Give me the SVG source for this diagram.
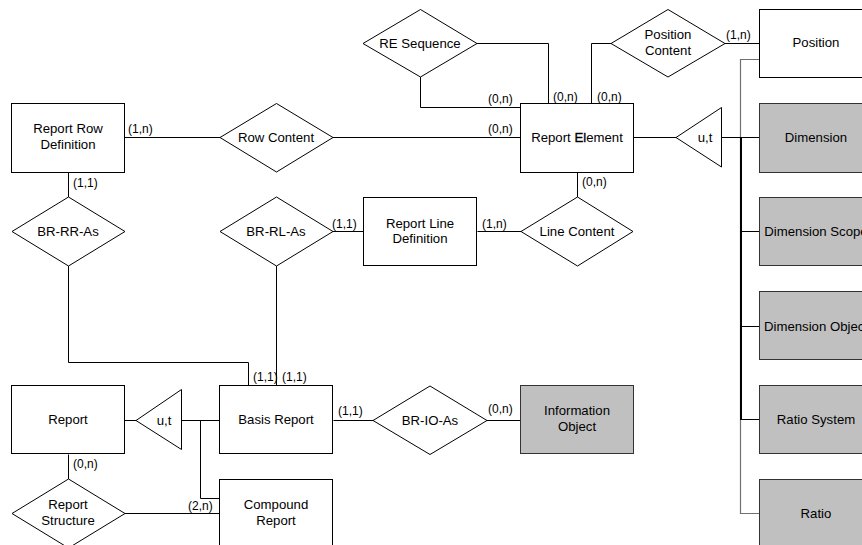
<svg xmlns="http://www.w3.org/2000/svg" width="862" height="545" viewBox="0 0 862 545">
  <style>
    .ent { fill: #ffffff; stroke: #000000; stroke-width: 1; }
    .ent-ext { fill: #c0c0c0; stroke: #333333; stroke-width: 1; }
    .rel { fill: #ffffff; stroke: #000000; stroke-width: 1; }
    .gen { fill: #ffffff; stroke: #000000; stroke-width: 1; }
    .t { font-family: "Liberation Sans", Arial, sans-serif; font-size: 13.2px; fill: #000000; text-anchor: middle; }
    .card { font-family: "Liberation Sans", Arial, sans-serif; font-size: 12px; fill: #000000; }
    .ln { fill: none; stroke: #000000; stroke-width: 1; }
    .ln-grey { fill: none; stroke: #707070; stroke-width: 1.2; }
    .ln-bold { fill: none; stroke: #000000; stroke-width: 2; }
  </style>
  <rect width="862" height="545" fill="#ffffff"/>

  <!-- connectors -->
  <g id="connectors">
    <!-- Report Row Definition - Row Content - Report Element -->
    <path class="ln" d="M124.5,137.5 H220"/>
    <path class="ln" d="M333,137.5 H520.5"/>
    <!-- RE Sequence loop -->
    <path class="ln" d="M477,43.5 H548.5 V103.5"/>
    <path class="ln" d="M420.5,77 V107.5 H520.5"/>
    <!-- Position Content -->
    <path class="ln" d="M611,43.5 H591.5 V103.5"/>
    <path class="ln" d="M725,43.5 H759.5"/>
    <!-- Report Element generalisation -->
    <path class="ln" d="M633.5,137.5 H676"/>
    <path class="ln-grey" d="M759.5,59.5 H740.5 V513.5 H759.5"/>
    <path class="ln" d="M721,137.5 H759.5"/>
    <path class="ln-bold" d="M741,137 V420"/>
    <path class="ln" d="M740.5,231.5 H759.5"/>
    <path class="ln" d="M740.5,326.5 H759.5"/>
    <path class="ln" d="M740.5,419.5 H759.5"/>
    <!-- Line Content -->
    <path class="ln" d="M577.5,172.5 V197"/>
    <path class="ln" d="M477.5,231.5 H521"/>
    <path class="ln" d="M333,231.5 H363.5"/>
    <!-- BR-RR-As -->
    <path class="ln" d="M68.5,172.5 V197"/>
    <path class="ln" d="M68.5,266 V362.5 H248.5 V386.5"/>
    <!-- BR-RL-As -->
    <path class="ln" d="M276.5,266 V386.5"/>
    <!-- Report / Basis Report / Compound Report -->
    <path class="ln" d="M219.5,420.5 H181"/>
    <path class="ln" d="M136,420.5 H124.5"/>
    <path class="ln" d="M200.5,420.5 V498.5 H219.5"/>
    <path class="ln" d="M68.5,454.5 V479"/>
    <path class="ln" d="M125,513.5 H219.5"/>
    <!-- BR-IO-As -->
    <path class="ln" d="M333.5,420.5 H373"/>
    <path class="ln" d="M487,420.5 H520.5"/>
  </g>

  <!-- cardinalities -->
  <g id="cardinalities">
    <text class="card" x="128" y="133">(1,n)</text>
    <text class="card" x="488" y="133">(0,n)</text>
    <text class="card" x="488" y="103">(0,n)</text>
    <text class="card" x="553" y="101">(0,n)</text>
    <text class="card" x="597" y="101">(0,n)</text>
    <text class="card" x="726" y="39">(1,n)</text>
    <text class="card" x="582" y="186">(0,n)</text>
    <text class="card" x="482" y="228">(1,n)</text>
    <text class="card" x="332" y="228">(1,1)</text>
    <text class="card" x="73" y="187">(1,1)</text>
    <text class="card" x="253" y="381">(1,1)</text>
    <text class="card" x="282" y="381">(1,1)</text>
    <text class="card" x="73" y="468">(0,n)</text>
    <text class="card" x="188" y="510">(2,n)</text>
    <text class="card" x="338" y="415">(1,1)</text>
    <text class="card" x="488" y="413">(0,n)</text>
  </g>

  <!-- entities -->
  <g id="report-row-definition">
    <rect class="ent" x="11.5" y="103.5" width="113" height="69"/>
    <text class="t" x="68" y="133">Report Row</text>
    <text class="t" x="68" y="149">Definition</text>
  </g>
  <g id="report-element">
    <rect class="ent" x="520.5" y="103.5" width="113" height="69"/>
    <text class="t" x="577" y="142">Report <tspan stroke="#000000" stroke-width="0.3">El</tspan>ement</text>
  </g>
  <g id="position">
    <rect class="ent" x="759.5" y="9.5" width="113" height="68"/>
    <text class="t" x="816" y="47">Position</text>
  </g>
  <g id="dimension">
    <rect class="ent-ext" x="759.5" y="103.5" width="113" height="69"/>
    <text class="t" x="816" y="142">Dimension</text>
  </g>
  <g id="dimension-scope">
    <rect class="ent-ext" x="759.5" y="197.5" width="113" height="68"/>
    <text class="t" x="816" y="236">Dimension Scope</text>
  </g>
  <g id="dimension-object">
    <rect class="ent-ext" x="759.5" y="291.5" width="113" height="68"/>
    <text class="t" x="816" y="331">Dimension Object</text>
  </g>
  <g id="ratio-system">
    <rect class="ent-ext" x="759.5" y="385.5" width="113" height="68"/>
    <text class="t" x="816" y="424">Ratio System</text>
  </g>
  <g id="ratio">
    <rect class="ent-ext" x="759.5" y="479.5" width="113" height="69"/>
    <text class="t" x="816" y="518">Ratio</text>
  </g>
  <g id="report-line-definition">
    <rect class="ent" x="363.5" y="197.5" width="113" height="68"/>
    <text class="t" x="420" y="228">Report Line</text>
    <text class="t" x="420" y="243">Definition</text>
  </g>
  <g id="report">
    <rect class="ent" x="11.5" y="385.5" width="113" height="68"/>
    <text class="t" x="68" y="424">Report</text>
  </g>
  <g id="basis-report">
    <rect class="ent" x="219.5" y="385.5" width="113" height="68"/>
    <text class="t" x="276" y="424">Basis Report</text>
  </g>
  <g id="compound-report">
    <rect class="ent" x="219.5" y="479.5" width="113" height="69"/>
    <text class="t" x="276" y="509">Compound</text>
    <text class="t" x="276" y="525">Report</text>
  </g>
  <g id="information-object">
    <rect class="ent-ext" x="520.5" y="385.5" width="113" height="68"/>
    <text class="t" x="577" y="415">Information</text>
    <text class="t" x="577" y="431">Object</text>
  </g>

  <!-- relationships -->
  <g id="re-sequence">
    <polygon class="rel" points="363,43.5 420.5,9.5 477,43.5 420.5,77"/>
    <text class="t" x="420" y="48">RE Sequence</text>
  </g>
  <g id="row-content">
    <polygon class="rel" points="220,137.5 276.5,103.5 333,137.5 276.5,172"/>
    <text class="t" x="276" y="142">Row Content</text>
  </g>
  <g id="position-content">
    <polygon class="rel" points="611,43.5 668,9.5 725,43.5 668,77"/>
    <text class="t" x="668" y="39">Position</text>
    <text class="t" x="668" y="55">Content</text>
  </g>
  <g id="br-rr-as">
    <polygon class="rel" points="12,231.5 68.5,197 125,231.5 68.5,266"/>
    <text class="t" x="68" y="236">BR-RR-As</text>
  </g>
  <g id="br-rl-as">
    <polygon class="rel" points="220,231.5 276.5,197 333,231.5 276.5,266"/>
    <text class="t" x="276" y="236">BR-RL-As</text>
  </g>
  <g id="line-content">
    <polygon class="rel" points="521,231.5 577.5,197 633,231.5 577.5,266"/>
    <text class="t" x="577" y="236">Line Content</text>
  </g>
  <g id="br-io-as">
    <polygon class="rel" points="373,420.5 430,386 487,420.5 430,454.5"/>
    <text class="t" x="430" y="425">BR-IO-As</text>
  </g>
  <g id="report-structure">
    <polygon class="rel" points="12,513.5 68.5,479 125,513.5 68.5,548"/>
    <text class="t" x="68" y="509">Report</text>
    <text class="t" x="68" y="525">Structure</text>
  </g>

  <!-- generalisations -->
  <g id="gen-report-element">
    <polygon class="gen" points="676,137.5 721.5,107.5 721.5,167"/>
    <text class="t" x="705" y="142">u,t</text>
  </g>
  <g id="gen-report">
    <polygon class="gen" points="136,420.5 181.5,389.5 181.5,449.5"/>
    <text class="t" x="164" y="425">u,t</text>
  </g>
</svg>
